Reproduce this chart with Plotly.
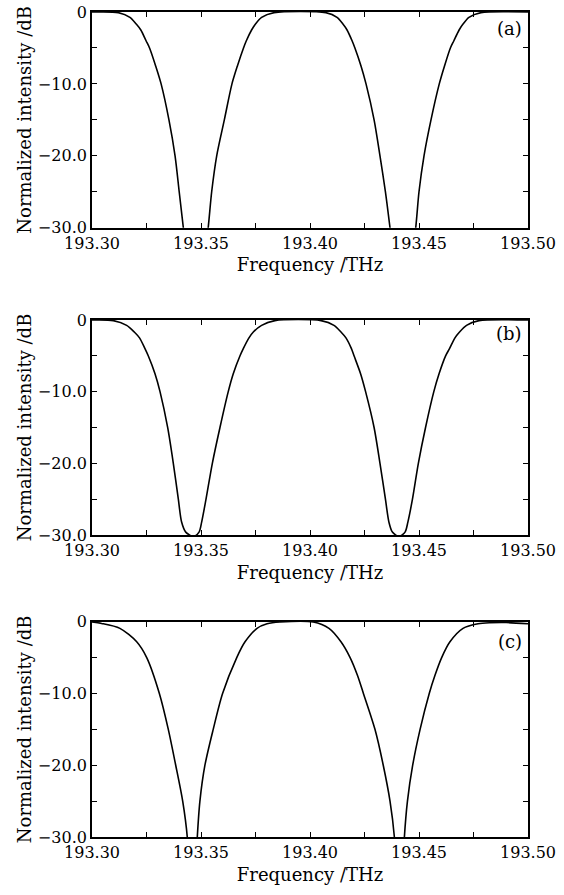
import plotly.graph_objects as go
from plotly.subplots import make_subplots

# ---------------- data ----------------
freq_a = [193.300, 193.3121, 193.3174, 193.3203, 193.3224, 193.3248, 193.3264, 193.3292,
          193.3317, 193.3353, 193.3381, 193.3400, 193.3419, 193.3476, 193.3533, 193.3549,
          193.3572, 193.3607, 193.3642, 193.3667, 193.3695, 193.3708, 193.3732, 193.3750,
          193.3778, 193.3835,
          193.4073, 193.4124, 193.4151, 193.4170, 193.4193, 193.4206, 193.4234, 193.4257,
          193.4294, 193.4321, 193.4346, 193.4367, 193.4426, 193.4485, 193.4500, 193.4523,
          193.4555, 193.4593, 193.4617, 193.4644, 193.4660, 193.4684, 193.4702, 193.4729,
          193.4784, 193.500]
db_a = [0.0, -0.09, -0.75, -1.68, -2.5, -4.0, -5.0, -7.5,
        -10.0, -15.0, -20.0, -25.0, -30.0, -45.0, -30.0, -25.0,
        -20.0, -15.0, -10.0, -7.5, -5.0, -4.0, -2.5, -1.68,
        -0.75, -0.09,
        -0.09, -0.75, -1.68, -2.5, -4.0, -5.0, -7.5, -10.0,
        -15.0, -20.0, -25.0, -30.0, -45.0, -30.0, -25.0, -20.0,
        -15.0, -10.0, -7.5, -5.0, -4.0, -2.5, -1.68, -0.75,
        -0.09, 0.0]

freq_b = [193.300, 193.3098, 193.3159, 193.3194, 193.3218, 193.3243, 193.3258, 193.3289,
          193.3312, 193.3347, 193.3373, 193.3396, 193.3411, 193.3430, 193.3465, 193.3491,
          193.3503, 193.3523, 193.3552, 193.3587, 193.3625, 193.3648, 193.3679, 193.3694,
          193.3720, 193.3740, 193.3778, 193.3839,
          193.4051, 193.4110, 193.4142, 193.4165, 193.4190, 193.4202, 193.4232, 193.4255,
          193.4294, 193.4321, 193.4346, 193.4362, 193.4378, 193.4408, 193.4436, 193.4449,
          193.4470, 193.4497, 193.4530, 193.4568, 193.4592, 193.4622, 193.4640, 193.4665,
          193.4686, 193.4718, 193.4775, 193.500]
db_b = [0.0, -0.09, -0.75, -1.68, -2.5, -4.0, -5.0, -7.5,
        -10.0, -15.0, -20.0, -25.0, -28.2, -29.6, -30.2, -29.6,
        -28.2, -25.0, -20.0, -15.0, -10.0, -7.5, -5.0, -4.0,
        -2.5, -1.68, -0.75, -0.09,
        -0.09, -0.75, -1.68, -2.5, -4.0, -5.0, -7.5, -10.0,
        -15.0, -20.0, -25.0, -28.2, -29.6, -30.2, -29.6, -28.2,
        -25.0, -20.0, -15.0, -10.0, -7.5, -5.0, -4.0, -2.5,
        -1.68, -0.75, -0.09, 0.0]

freq_c = [193.300, 193.3044, 193.3128, 193.3205, 193.3251, 193.3309, 193.3350, 193.3384,
          193.3416, 193.3437, 193.3460, 193.3483, 193.3495, 193.3518, 193.3556, 193.3599,
          193.3664, 193.3702, 193.3757, 193.3803, 193.3862,
          193.4015, 193.4087, 193.4142, 193.4184, 193.4218, 193.4245, 193.4298, 193.4336,
          193.4367, 193.4387, 193.4410, 193.4433, 193.4447, 193.4471, 193.4505, 193.4547,
          193.4573, 193.4604, 193.4642, 193.4702, 193.4771, 193.4826, 193.4900, 193.500]
db_c = [-0.05, -0.25, -0.93, -2.8, -5.0, -10.0, -15.0, -20.0,
        -25.0, -30.0, -45.0, -30.0, -25.0, -20.0, -15.0, -10.0,
        -5.0, -2.8, -0.93, -0.3, -0.05,
        -0.05, -0.93, -2.8, -5.0, -7.5, -10.0, -15.0, -20.0,
        -25.0, -30.0, -45.0, -30.0, -25.0, -20.0, -15.0, -10.0,
        -7.5, -5.0, -2.8, -0.93, -0.3, -0.15, -0.12, -0.3]

panel_labels = ["(a)", "(b)", "(c)"]
x_tickvals = [193.30, 193.35, 193.40, 193.45, 193.50]
x_ticktext = ["193.30", "193.35", "193.40", "193.45", "193.50"]
y_tickvals = [0, -10, -20, -30]
y_ticktext = ["0", "\u221210.0", "\u221220.0", "\u221230.0"]
x_title = "Frequency /THz"
y_title = "Normalized intensity /dB"

# ---------------- figure ----------------
FONT = "DejaVu Serif"
fig = make_subplots(rows=3, cols=1)

series = [(freq_a, db_a), (freq_b, db_b), (freq_c, db_c)]
for i, (f, d) in enumerate(series, start=1):
    fig.add_trace(go.Scatter(x=f, y=d, mode="lines",
                             line=dict(color="black", width=1.6, shape="spline", smoothing=0.8),
                             showlegend=False, hoverinfo="skip"), row=i, col=1)

domains = [[0.7385, 1.0], [0.3661, 0.6267], [0.0, 0.261]]
label_y = [0.924, 0.935, 0.91]

for i in range(3):
    sx = "" if i == 0 else str(i + 1)
    fig.layout["xaxis" + sx].update(
        domain=[0, 1], range=[193.30, 193.50], automargin=False,
        tickvals=x_tickvals, ticktext=x_ticktext,
        ticks="inside", ticklen=5, tickwidth=1.2, tickcolor="black",
        minor=dict(ticks="inside", dtick=0.025, tick0=193.30, ticklen=5, tickwidth=1.2, tickcolor="black"),
        showline=True, linecolor="black", linewidth=1.8, mirror="allticks",
        showgrid=False, zeroline=False,
        tickfont=dict(family=FONT, size=16, color="black"),
        title=dict(text=x_title, font=dict(family=FONT, size=18, color="black"), standoff=7),
    )
    fig.layout["yaxis" + sx].update(
        domain=domains[i], range=[-30, 0], automargin=False,
        tickvals=y_tickvals, ticktext=y_ticktext,
        ticks="inside", ticklen=5, tickwidth=1.2, tickcolor="black",
        minor=dict(ticks="inside", dtick=5, tick0=0, ticklen=5, tickwidth=1.2, tickcolor="black"),
        showline=True, linecolor="black", linewidth=1.8, mirror="allticks",
        showgrid=False, zeroline=False,
        tickfont=dict(family=FONT, size=16, color="black"),
        title=dict(text=y_title, font=dict(family=FONT, size=18, color="black"), standoff=2),
    )
    fig.add_annotation(text=panel_labels[i], xref="x" + sx + " domain", yref="y" + sx + " domain",
                       x=0.99, y=label_y[i], xanchor="right", yanchor="middle", showarrow=False,
                       font=dict(family=FONT, size=18, color="black"))

fig.update_layout(width=564, height=895, margin=dict(l=92, r=36, t=12, b=58),
                  plot_bgcolor="white", paper_bgcolor="white")

fig.write_html("out.html", config={"displayModeBar": False},
               post_script="document.body.style.margin='0';document.body.style.overflow='hidden';")
